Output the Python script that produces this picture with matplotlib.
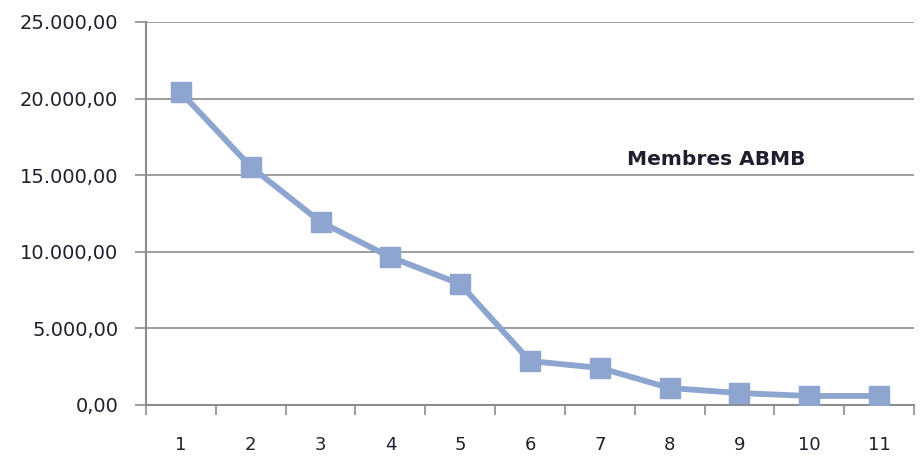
import numpy as np
from matplotlib import pyplot as plt
from matplotlib.ticker import FuncFormatter

# Values
categories = [1, 2, 3, 4, 5, 6, 7, 8, 9, 10, 11]
membres = [20400, 15550, 11950, 9650, 7900, 2870, 2420, 1110, 780, 590, 590]

line_color = '#8EA5CF'
grid_color = '#8C8C8C'
text_color = '#1F1F2E'

fig = plt.figure(figsize=(9.22, 4.70), dpi=100)
ax = fig.add_axes([0.1584, 0.1383, 0.8329, 0.8149])

ax.plot(categories, membres, color=line_color, linewidth=4.2,
        marker='s', markersize=14, markerfacecolor=line_color,
        markeredgecolor=line_color, zorder=3)

ax.set_xlim(0.5, 11.5)
ax.set_ylim(0, 25000)

# y axis: grid every 5000, labels like 25.000,00
ax.set_yticks(np.arange(0, 25001, 5000))
ax.yaxis.set_major_formatter(FuncFormatter(
    lambda v, p: f'{v:,.2f}'.replace(',', 'X').replace('.', ',').replace('X', '.')))
ax.grid(axis='y', color=grid_color, linewidth=1.2)
ax.set_axisbelow(True)

# x axis: tick marks between categories, labels at centers
ax.set_xticks(np.arange(0.5, 11.6, 1))
ax.set_xticklabels([])
ax.set_xticks(categories, minor=True)
ax.set_xticklabels([str(c) for c in categories], minor=True)
ax.tick_params(axis='x', which='major', direction='out', length=7,
               color=grid_color, width=1.2)
ax.tick_params(axis='x', which='minor', length=0, pad=22,
               labelsize=13, labelcolor=text_color)
ax.tick_params(axis='y', direction='out', length=8, color=grid_color,
               width=1.2, pad=12, labelsize=14, labelcolor=text_color)

for side in ['top', 'right']:
    ax.spines[side].set_visible(False)
for side in ['left', 'bottom']:
    ax.spines[side].set_color(grid_color)
    ax.spines[side].set_linewidth(1.5)

ax.text(0.742, 0.64, 'Membres ABMB', transform=ax.transAxes,
        ha='center', va='center', fontsize=14.5, fontweight='bold',
        color=text_color)

fig.savefig('out.png', dpi=100)
